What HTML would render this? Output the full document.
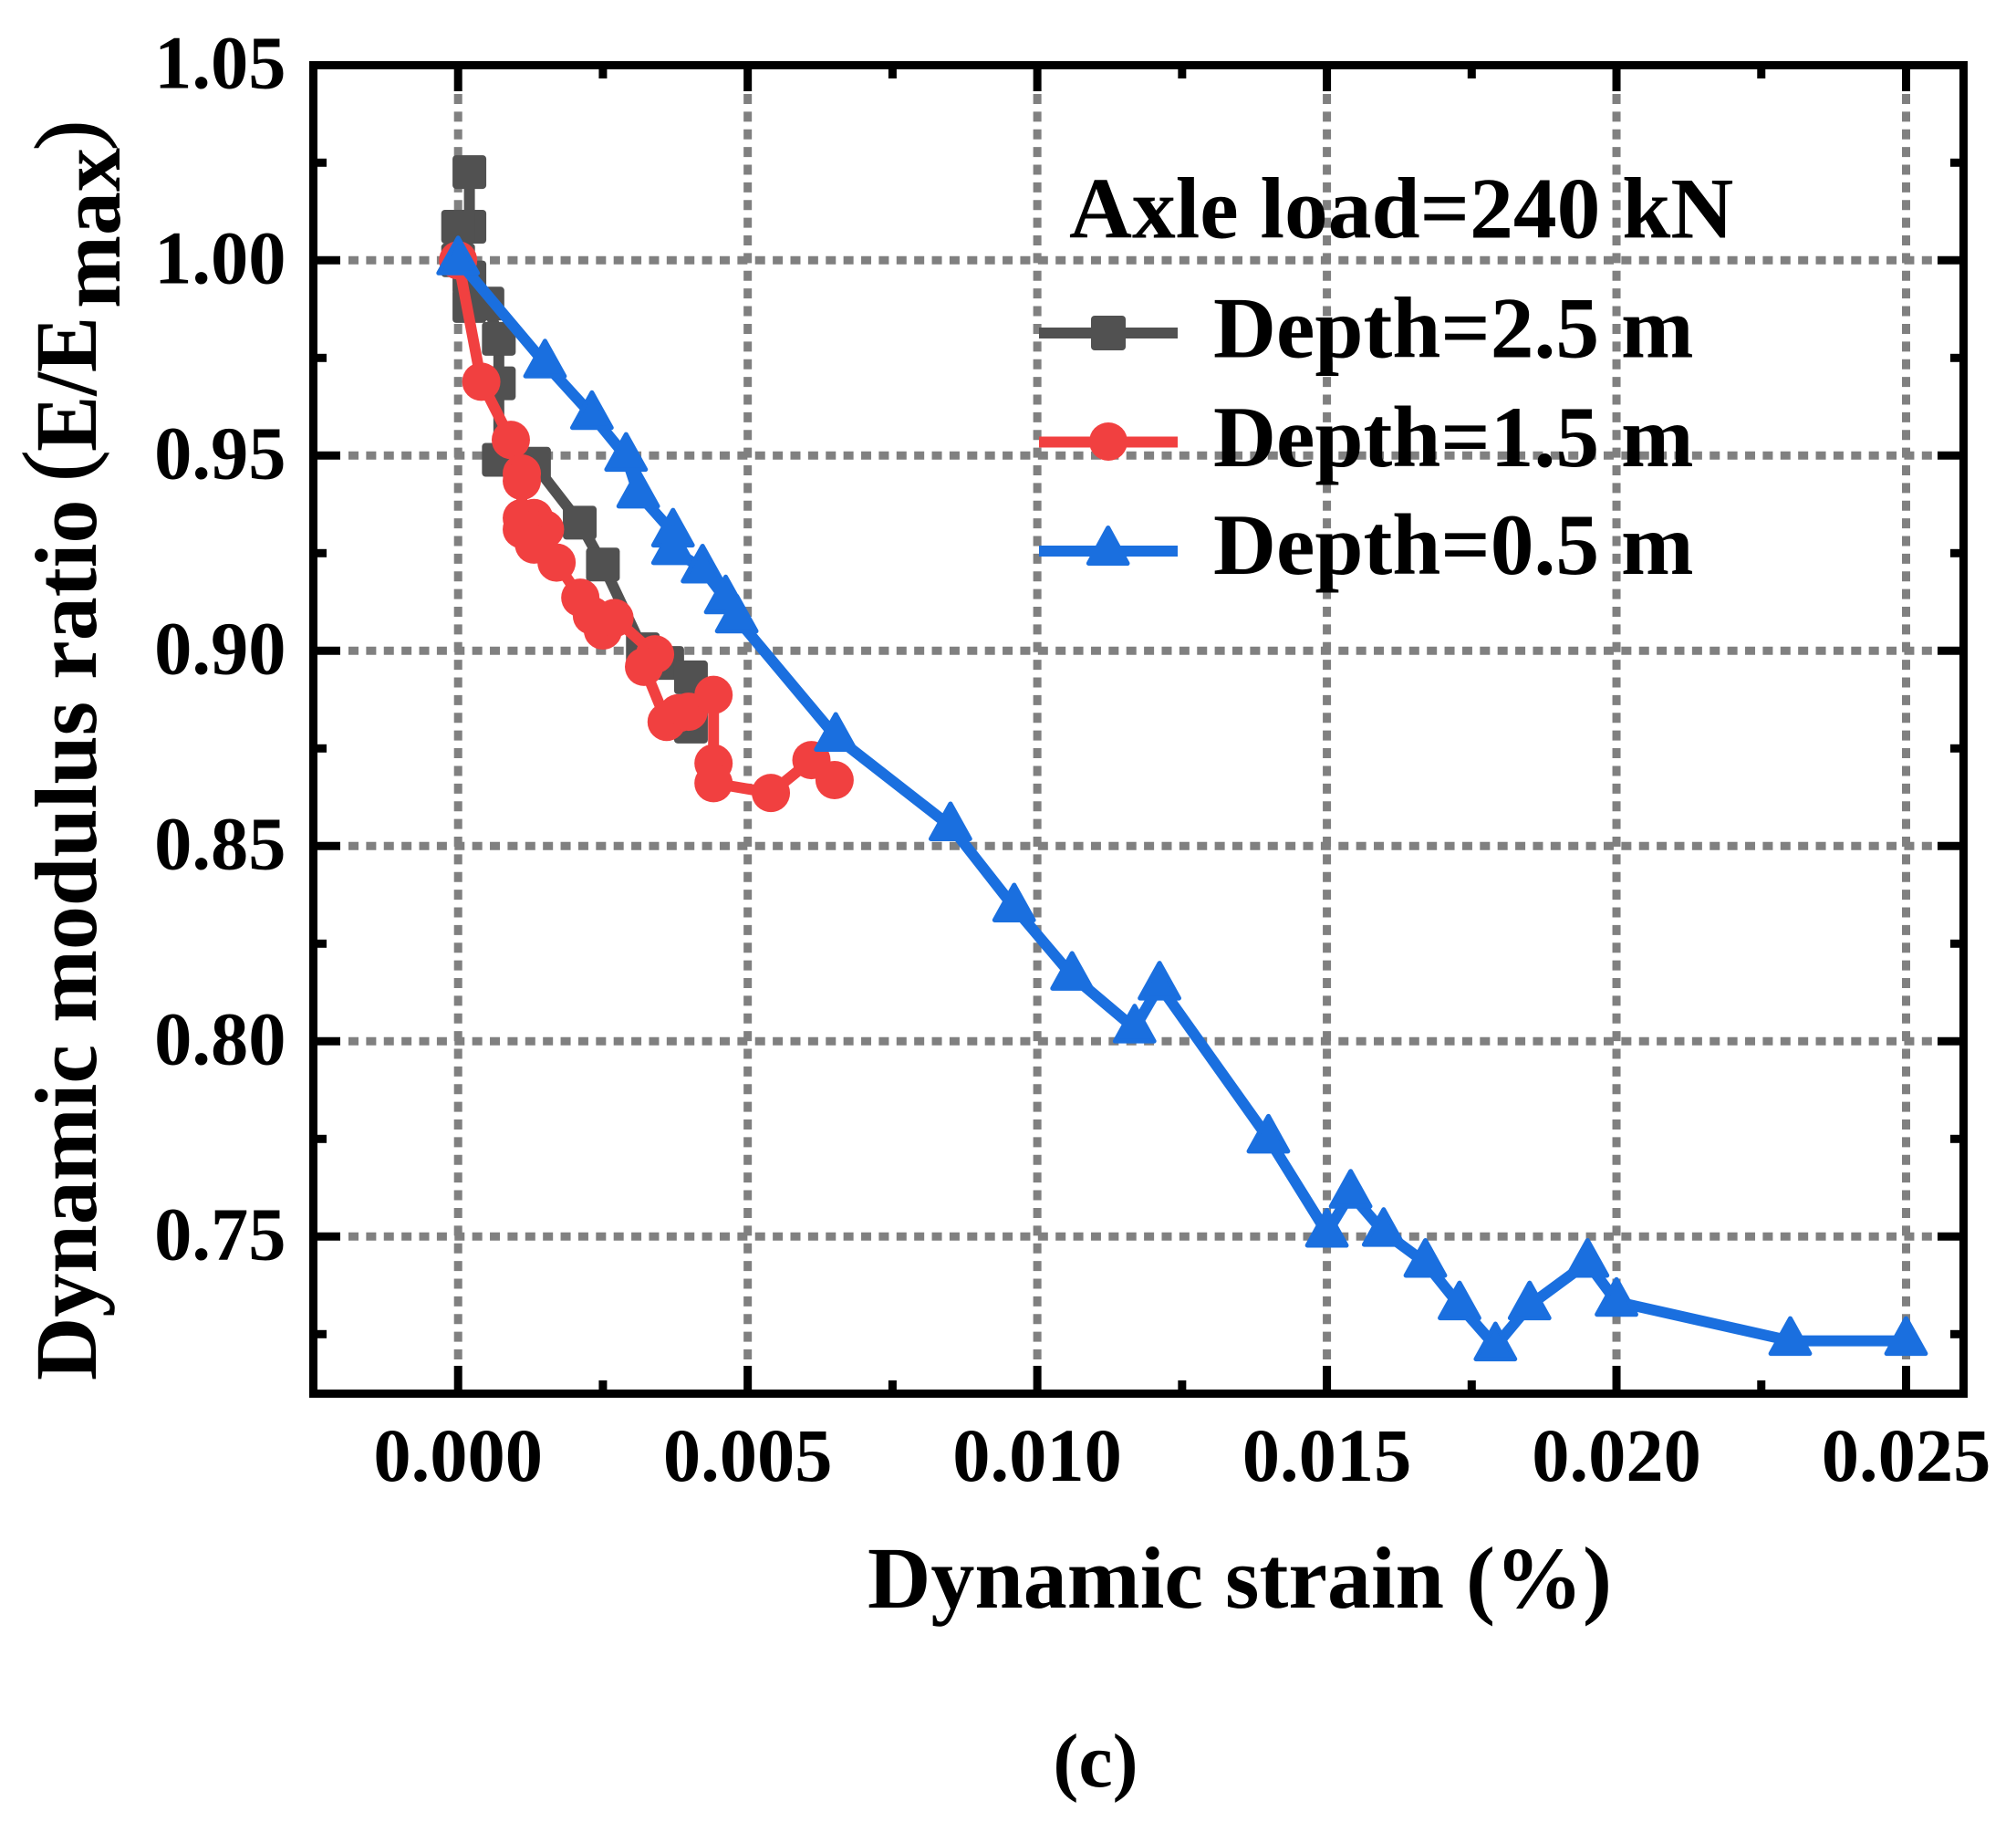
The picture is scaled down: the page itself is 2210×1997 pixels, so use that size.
<!DOCTYPE html>
<html lang="en">
<head>
<meta charset="utf-8">
<title>Dynamic modulus ratio vs dynamic strain</title>
<style>
html,body{margin:0;padding:0;background:#fff;}
svg{display:block;}
text{font-family:"Liberation Serif",serif;font-weight:bold;fill:#000;}
</style>
</head>
<body>
<svg id="chart" xmlns="http://www.w3.org/2000/svg" width="2210" height="1997" viewBox="0 0 2210 1997">
  <rect x="0" y="0" width="2210" height="1997" fill="#ffffff"/>
  <g id="grid"></g>
  <g id="ticks"></g>
  <g id="tick-labels"></g>
  <rect x="343.5" y="71.5" width="1809" height="1456" fill="none" stroke="#000" stroke-width="9"/>
  <g id="series"></g>

  <g>
    <text x="1172" y="260.5" font-size="95.5">Axle load=240 kN</text>
    <g>
      <line x1="1139" y1="365" x2="1291" y2="365" stroke="#515151" stroke-width="12"/>
      <rect x="1196" y="346" width="38" height="38" rx="4" fill="#515151"/>
      <text x="1330" y="391.5" font-size="95.5">Depth=2.5 m</text>
    </g>
    <g>
      <line x1="1139" y1="484.5" x2="1291" y2="484.5" stroke="#F14040" stroke-width="12"/>
      <circle cx="1215" cy="484" r="21" fill="#F14040"/>
      <text x="1330" y="511" font-size="95.5">Depth=1.5 m</text>
    </g>
    <g>
      <line x1="1139" y1="604" x2="1291" y2="604" stroke="#1A6FDF" stroke-width="12"/>
      <polygon points="1214.7,578.5 1236,617.5 1193.4,617.5" fill="#1A6FDF" stroke="#1A6FDF" stroke-width="5" stroke-linejoin="round"/>
      <text x="1330" y="629" font-size="95.5">Depth=0.5 m</text>
    </g>
  </g>

  <text x="1359" y="1762" font-size="96" text-anchor="middle">Dynamic strain (%)</text>
  <text x="1201" y="1958" font-size="84" text-anchor="middle">(c)</text>

  <g>
    <text transform="translate(105,1513) rotate(-90)" font-size="96">Dynamic modulus ratio</text>
    <text transform="translate(97,528) rotate(-90)" font-size="104" style="font-weight:normal" stroke="#000" stroke-width="1">(</text>
    <text transform="translate(105,495) rotate(-90)" font-size="96" textLength="148" lengthAdjust="spacingAndGlyphs">E/E</text>
    <text transform="translate(131,338) rotate(-90)" font-size="96">max</text>
    <text transform="translate(107,165) rotate(-90)" font-size="100" style="font-weight:normal" stroke="#000" stroke-width="1">)</text>
  </g>
</svg>

<script>
const xMajorTicks = [0, 0.005, 0.010, 0.015, 0.020, 0.025];
const xMinorTicks = [0.0025, 0.0075, 0.0125, 0.0175, 0.0225];
const yMajorTicks = [0.75, 0.80, 0.85, 0.90, 0.95, 1.00, 1.05];
const yMinorTicks = [0.725, 0.775, 0.825, 0.875, 0.925, 0.975, 1.025];
const xTickLabels = ["0.000", "0.005", "0.010", "0.015", "0.020", "0.025"];
const yTickLabels = ["0.75", "0.80", "0.85", "0.90", "0.95", "1.00", "1.05"];

const depth25Strain = [0.000195, 0.000195, 0.0000, 0.0000, 0.000195, 0.000195, 0.000506, 0.000703, 0.000703, 0.000703, 0.00131, 0.00210, 0.00250, 0.00319, 0.00361, 0.00402, 0.00402];
const depth25Ratio = [1.0226, 1.0086, 1.0086, 1.0000, 0.9956, 0.9883, 0.9889, 0.9799, 0.9685, 0.9489, 0.9479, 0.9328, 0.9221, 0.9004, 0.8969, 0.8932, 0.8806];

const depth15Strain = [0.0000, 0.00040, 0.00091, 0.00110, 0.00110, 0.00110, 0.00131, 0.00150, 0.00110, 0.00131, 0.00170, 0.00211, 0.00231, 0.00250, 0.00270, 0.00340, 0.00321, 0.00360, 0.00380, 0.00398, 0.00441, 0.00441, 0.00441, 0.00540, 0.00610, 0.00650];
const depth15Ratio = [1.0000, 0.9689, 0.9540, 0.9454, 0.9435, 0.9340, 0.9340, 0.9311, 0.9311, 0.9272, 0.9226, 0.9136, 0.9090, 0.9052, 0.9084, 0.8991, 0.8959, 0.8818, 0.8840, 0.8844, 0.8887, 0.8712, 0.8661, 0.8636, 0.8720, 0.8669];

const depth05Strain = [0.0000, 0.00150, 0.00231, 0.00290, 0.00311, 0.00371, 0.00371, 0.00422, 0.00462, 0.00481, 0.00652, 0.00850, 0.00960, 0.01060, 0.01168, 0.01211, 0.01399, 0.01500, 0.01541, 0.01598, 0.01670, 0.01729, 0.01791, 0.01850, 0.01950, 0.02000, 0.02300, 0.02500];
const depth05Ratio = [1.0000, 0.9736, 0.9604, 0.9497, 0.9403, 0.9303, 0.9258, 0.9211, 0.9132, 0.9083, 0.8780, 0.8551, 0.8343, 0.8168, 0.8033, 0.8143, 0.7751, 0.7510, 0.7610, 0.7512, 0.7433, 0.7324, 0.7219, 0.7324, 0.7433, 0.7333, 0.7233, 0.7233];

const SVGNS = "http://www.w3.org/2000/svg";
function xAxis(v) { return 502.2 + (v - 0) * (2089.5 - 502.2) / 0.025; }
function yAxis(v) { return 285.3 + (1 - v) * (1355.3 - 285.3) / 0.25; }

function make(tag, attrs, parent) {
  const el = document.createElementNS(SVGNS, tag);
  for (const k in attrs) el.setAttribute(k, attrs[k]);
  parent.appendChild(el);
  return el;
}

const gridG = document.getElementById("grid");
const ticksG = document.getElementById("ticks");
const labelsG = document.getElementById("tick-labels");
const seriesG = document.getElementById("series");

const gridStyle = { stroke: "#808080", "stroke-width": 9, "stroke-dasharray": "11 8.38", fill: "none" };

xMajorTicks.forEach(function (v, i) {
  const x = xAxis(v);
  const grid = make("line", Object.assign({ x1: x, x2: x, y1: 103, y2: 1495 }, gridStyle), gridG);
  
  
  const bottom = make("line", { x1: x, x2: x, y1: 1497, y2: 1527, stroke: "#000", "stroke-width": 9 }, ticksG);
  
  
  const top = make("line", { x1: x, x2: x, y1: 72, y2: 100, stroke: "#000", "stroke-width": 9 }, ticksG);
  
  
  const label = make("text", { x: x, y: 1623, "font-size": 82.5, "text-anchor": "middle" }, labelsG);
  label.textContent = xTickLabels[i];
  
  
});

xMinorTicks.forEach(function (v) {
  const x = xAxis(v);
  const bottom = make("line", { x1: x, x2: x, y1: 1513, y2: 1527, stroke: "#000", "stroke-width": 9 }, ticksG);
  
  
  const top = make("line", { x1: x, x2: x, y1: 72, y2: 86, stroke: "#000", "stroke-width": 9 }, ticksG);
  
  
});

yMajorTicks.forEach(function (v, i) {
  const y = yAxis(v);
  if (v < 1.05) {
    const grid = make("line", Object.assign({ x1: 382, x2: 2118, y1: y, y2: y }, gridStyle), gridG);
    
    
    const left = make("line", { x1: 344, x2: 373, y1: y, y2: y, stroke: "#000", "stroke-width": 9 }, ticksG);
    
    
    const right = make("line", { x1: 2124, x2: 2152, y1: y, y2: y, stroke: "#000", "stroke-width": 9 }, ticksG);
    
    
  }
  const label = make("text", { x: 313.5, y: y + 25, "font-size": 82.5, "text-anchor": "end" }, labelsG);
  label.textContent = yTickLabels[i];
  
  
});

yMinorTicks.forEach(function (v) {
  const y = yAxis(v);
  const left = make("line", { x1: 344, x2: 358, y1: y, y2: y, stroke: "#000", "stroke-width": 9 }, ticksG);
  
  
  const right = make("line", { x1: 2138, x2: 2152, y1: y, y2: y, stroke: "#000", "stroke-width": 9 }, ticksG);
  
  
});

function linePoints(xs, ys) {
  return xs.map(function (v, i) { return xAxis(v) + "," + yAxis(ys[i]); }).join(" ");
}

function drawSquares(xs, ys, color, group) {
  xs.forEach(function (v, i) {
    const m = make("rect", { x: xAxis(v) - 18.5, y: yAxis(ys[i]) - 18.5, width: 37, height: 37, rx: 4, fill: color }, group);
    
    
  });
}
function drawCircles(xs, ys, color, group) {
  xs.forEach(function (v, i) {
    const m = make("circle", { cx: xAxis(v), cy: yAxis(ys[i]), r: 21, fill: color }, group);
    
    
  });
}
function drawTriangles(xs, ys, color, group) {
  xs.forEach(function (v, i) {
    const cx = xAxis(v), cy = yAxis(ys[i]);
    const pts = cx + "," + (cy - 24.5) + " " + (cx + 21.4) + "," + (cy + 14) + " " + (cx - 21.4) + "," + (cy + 14);
    const m = make("polygon", { points: pts, fill: color, stroke: color, "stroke-width": 5, "stroke-linejoin": "round" }, group);
    
    
  });
}

const g25 = make("g", {}, seriesG);


const line25 = make("polyline", { points: linePoints(depth25Strain, depth25Ratio), fill: "none", stroke: "#515151", "stroke-width": 12, "stroke-linejoin": "round" }, g25);


drawSquares(depth25Strain, depth25Ratio, "#515151", g25);

const g15 = make("g", {}, seriesG);


const line15 = make("polyline", { points: linePoints(depth15Strain, depth15Ratio), fill: "none", stroke: "#F14040", "stroke-width": 12, "stroke-linejoin": "round" }, g15);


drawCircles(depth15Strain, depth15Ratio, "#F14040", g15);

const g05 = make("g", {}, seriesG);


const line05 = make("polyline", { points: linePoints(depth05Strain, depth05Ratio), fill: "none", stroke: "#1A6FDF", "stroke-width": 12, "stroke-linejoin": "round" }, g05);


drawTriangles(depth05Strain, depth05Ratio, "#1A6FDF", g05);
</script>
</body>
</html>
